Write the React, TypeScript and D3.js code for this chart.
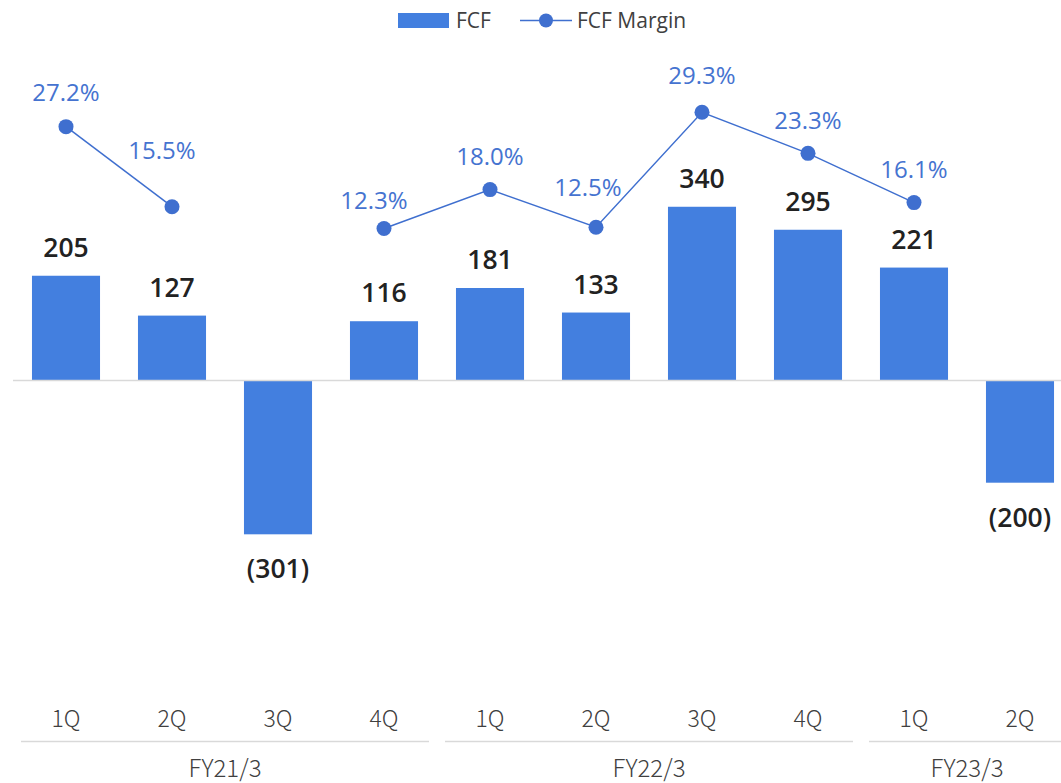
import React from "react";
import * as d3 from "d3";

const quarters = ["1Q", "2Q", "3Q", "4Q", "1Q", "2Q", "3Q", "4Q", "1Q", "2Q"];
const fcf = [205, 127, -301, 116, 181, 133, 340, 295, 221, -200];
const margin: (number | null)[] = [27.2, 15.5, null, 12.3, 18.0, 12.5, 29.3, 23.3, 16.1, null];
const fiscalYears = ["FY21/3", "FY22/3", "FY23/3"];
const fiscalSpans = [4, 4, 2];

// label placement tweaks (px), separate from data
const marginLabelDy = [-26, -48, 0, -20, -25, -31, -28, -24, -25, 0];
const marginLabelDx = [0, -10, 0, -10, 0, -8, 0, 0, 0, 0];

const W = 1061;
const H = 783;
const BAR = "#437FDF";
const LINE = "#3F6FCF";
const PCT = "#4573D0";
const TXT = "#404040";

export default function App() {
  const ids = quarters.map((_, i) => String(i));
  const x = d3
    .scaleBand<string>()
    .domain(ids)
    .range([13, 1073])
    .paddingInner(0.358)
    .paddingOuter(0.179);
  const y = d3.scaleLinear().domain([-400, 400]).range([584.9, 176.1]);
  const y2 = d3.scaleLinear().domain([0, 30]).range([312.7, 107.5]);
  const cx = (i: number) => (x(ids[i]) as number) + x.bandwidth() / 2;

  const segments: { idx: number[] }[] = [];
  let cur: number[] = [];
  margin.forEach((m, i) => {
    if (m == null) {
      if (cur.length) segments.push({ idx: cur });
      cur = [];
    } else cur.push(i);
  });
  if (cur.length) segments.push({ idx: cur });

  const line = d3
    .line<number>()
    .x((i) => cx(i))
    .y((i) => y2(margin[i] as number));

  const fmt = (v: number) => (v < 0 ? `(${Math.abs(v)})` : `${v}`);

  let start = 0;
  const groups = fiscalYears.map((fy, g) => {
    const s = start;
    const e = start + fiscalSpans[g] - 1;
    start += fiscalSpans[g];
    const x0 = (x(ids[s]) as number) - (x.step() - x.bandwidth()) / 2;
    const x1 = (x(ids[e]) as number) + x.bandwidth() + (x.step() - x.bandwidth()) / 2;
    return { fy, x0, x1 };
  });

  return (
    <svg
      width={W}
      height={H}
      style={{ position: "absolute", left: 0, top: 0, background: "#fff" }}
    >
      {/* legend */}
      <g fontFamily="'Open Sans', sans-serif" fontSize={21} fill={TXT}>
        <rect x={398} y={13} width={51} height={15} fill={BAR} />
        <text x={456} y={28}>FCF</text>
        <line x1={520} x2={572} y1={20.5} y2={20.5} stroke={LINE} strokeWidth={1.5} />
        <circle cx={546} cy={20.5} r={7} fill={LINE} />
        <text x={577} y={28}>FCF Margin</text>
      </g>

      {/* bars */}
      {fcf.map((v, i) => (
        <rect
          key={i}
          x={x(ids[i])}
          width={x.bandwidth()}
          y={Math.min(y(v), y(0))}
          height={Math.abs(y(v) - y(0))}
          fill={BAR}
        />
      ))}

      {/* zero axis */}
      <line x1={13} x2={W} y1={380.5} y2={380.5} stroke="#d9d9d9" strokeWidth={1.5} />

      {/* value labels */}
      {fcf.map((v, i) => (
        <text
          key={i}
          x={cx(i)}
          y={v >= 0 ? y(v) - 19 : y(v) + 44}
          textAnchor="middle"
          fontFamily="'Open Sans', sans-serif"
          fontWeight={600}
          fontSize={26.5}
          fill="#222"
        >
          {fmt(v)}
        </text>
      ))}

      {/* margin line */}
      {segments.map((s, k) => (
        <path key={k} d={line(s.idx) || ""} fill="none" stroke={LINE} strokeWidth={1.5} />
      ))}
      {margin.map((m, i) =>
        m == null ? null : (
          <g key={i}>
            <circle cx={cx(i)} cy={y2(m)} r={7.5} fill={LINE} />
            <text
              x={cx(i) + marginLabelDx[i]}
              y={y2(m) + marginLabelDy[i]}
              textAnchor="middle"
              fontFamily="'Open Sans', sans-serif"
              fontWeight={500}
              fontSize={24}
              fill={PCT}
            >
              {m.toFixed(1)}%
            </text>
          </g>
        )
      )}

      {/* x axis labels */}
      {quarters.map((q, i) => (
        <text
          key={i}
          x={cx(i)}
          y={727}
          textAnchor="middle"
          fontFamily="'Noto Sans CJK JP', sans-serif"
          fontWeight={300}
          fontSize={23}
          fill={TXT}
        >
          {q}
        </text>
      ))}

      {/* fiscal year groups */}
      {groups.map((g, k) => (
        <g key={k}>
          <line
            x1={g.x0 + 8}
            x2={g.x1 - 8}
            y1={741.5}
            y2={741.5}
            stroke="#d9d9d9"
            strokeWidth={1.5}
          />
          <text
            x={(g.x0 + g.x1) / 2}
            y={777}
            textAnchor="middle"
            fontFamily="'Noto Sans CJK JP', sans-serif"
            fontWeight={300}
            fontSize={24}
            fill={TXT}
          >
            {g.fy}
          </text>
        </g>
      ))}
    </svg>
  );
}
